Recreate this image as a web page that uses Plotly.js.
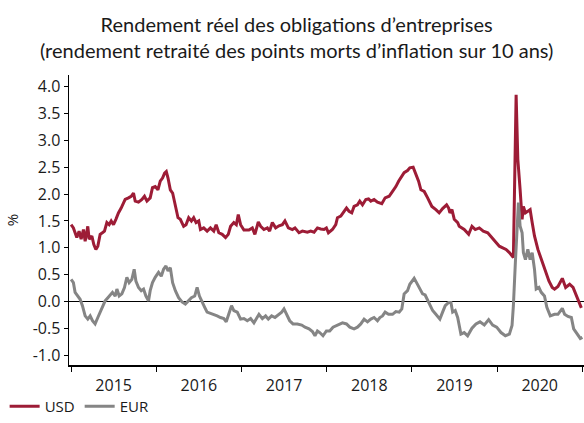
<!DOCTYPE html>
<html>
<head>
<meta charset="utf-8">
<script src="https://cdn.plot.ly/plotly-3.0.1.min.js"></script>
<style>html,body{margin:0;padding:0;background:#fff;}#chart{width:584px;height:423px;}</style>
</head>
<body>
<div id="chart"></div>
<script>
// Time given as decimal years, values in %
const usdT = [2015.000,2015.027,2015.067,2015.094,2015.118,2015.145,2015.165,2015.196,2015.212,2015.244,2015.267,2015.291,2015.314,2015.341,2015.368,2015.392,2015.420,2015.447,2015.471,2015.498,2015.526,2015.556,2015.588,2015.635,2015.674,2015.706,2015.733,2015.753,2015.792,2015.832,2015.862,2015.891,2015.929,2015.956,2015.988,2016.020,2016.047,2016.074,2016.098,2016.118,2016.138,2016.165,2016.192,2016.224,2016.255,2016.282,2016.321,2016.349,2016.380,2016.412,2016.439,2016.467,2016.498,2016.518,2016.556,2016.596,2016.635,2016.674,2016.702,2016.733,2016.773,2016.812,2016.844,2016.871,2016.909,2016.938,2016.961,2016.988,2017.027,2017.086,2017.126,2017.156,2017.196,2017.224,2017.262,2017.302,2017.329,2017.361,2017.400,2017.439,2017.479,2017.509,2017.549,2017.596,2017.627,2017.674,2017.714,2017.773,2017.812,2017.851,2017.891,2017.929,2017.968,2017.996,2018.020,2018.067,2018.106,2018.126,2018.165,2018.204,2018.232,2018.262,2018.294,2018.321,2018.361,2018.388,2018.420,2018.459,2018.491,2018.518,2018.556,2018.596,2018.647,2018.686,2018.733,2018.773,2018.812,2018.844,2018.871,2018.909,2018.949,2018.976,2019.015,2019.047,2019.079,2019.106,2019.145,2019.185,2019.235,2019.282,2019.321,2019.361,2019.408,2019.432,2019.447,2019.471,2019.498,2019.538,2019.556,2019.615,2019.667,2019.706,2019.745,2019.792,2019.839,2019.891,2019.941,2019.988,2020.027,2020.067,2020.106,2020.145,2020.192,2020.224,2020.244,2020.271,2020.294,2020.309,2020.333,2020.361,2020.388,2020.412,2020.439,2020.479,2020.506,2020.538,2020.568,2020.608,2020.647,2020.674,2020.714,2020.765,2020.804,2020.851,2020.891,2020.929,2020.961,2020.988];
const usdV = [1.43,1.37,1.19,1.31,1.16,1.34,1.12,1.40,1.16,1.22,1.06,0.97,1.03,1.25,1.28,1.31,1.47,1.43,1.50,1.43,1.53,1.65,1.74,1.90,1.93,1.96,2.02,1.87,1.85,1.90,1.96,1.87,1.93,2.12,2.14,2.08,2.24,2.30,2.39,2.42,2.30,2.08,2.02,1.77,1.56,1.53,1.40,1.43,1.56,1.50,1.56,1.47,1.50,1.34,1.37,1.31,1.37,1.31,1.43,1.28,1.25,1.19,1.25,1.40,1.47,1.43,1.62,1.43,1.33,1.33,1.37,1.25,1.48,1.40,1.34,1.37,1.31,1.47,1.37,1.41,1.43,1.50,1.37,1.34,1.37,1.28,1.31,1.29,1.31,1.29,1.37,1.35,1.34,1.37,1.28,1.34,1.43,1.56,1.59,1.68,1.74,1.68,1.65,1.77,1.80,1.87,1.80,1.90,1.91,1.87,1.90,1.85,1.82,1.93,1.96,2.05,2.14,2.24,2.30,2.40,2.44,2.49,2.50,2.36,2.24,2.08,2.05,1.93,1.77,1.71,1.65,1.73,1.80,1.74,1.65,1.71,1.53,1.47,1.40,1.34,1.25,1.40,1.34,1.37,1.31,1.28,1.19,1.09,1.03,1.00,0.97,0.91,0.82,3.85,2.65,2.08,1.53,1.77,1.65,1.68,1.71,1.47,1.22,0.97,0.85,0.69,0.57,0.38,0.26,0.23,0.28,0.43,0.26,0.32,0.26,0.10,-0.03,-0.12];

const eurT = [2015.000,2015.027,2015.047,2015.079,2015.106,2015.133,2015.165,2015.196,2015.224,2015.251,2015.282,2015.314,2015.341,2015.368,2015.400,2015.432,2015.459,2015.486,2015.518,2015.538,2015.565,2015.596,2015.627,2015.655,2015.682,2015.714,2015.741,2015.761,2015.792,2015.824,2015.851,2015.879,2015.909,2015.929,2015.956,2015.988,2016.027,2016.059,2016.086,2016.114,2016.138,2016.165,2016.192,2016.224,2016.262,2016.302,2016.341,2016.373,2016.412,2016.451,2016.479,2016.506,2016.538,2016.568,2016.596,2016.635,2016.674,2016.714,2016.753,2016.792,2016.820,2016.851,2016.882,2016.909,2016.949,2016.988,2017.027,2017.067,2017.106,2017.145,2017.173,2017.204,2017.244,2017.282,2017.314,2017.353,2017.392,2017.432,2017.471,2017.498,2017.526,2017.565,2017.604,2017.655,2017.706,2017.745,2017.792,2017.832,2017.862,2017.891,2017.918,2017.956,2017.996,2018.035,2018.074,2018.126,2018.185,2018.232,2018.271,2018.321,2018.361,2018.400,2018.439,2018.479,2018.518,2018.556,2018.596,2018.624,2018.655,2018.686,2018.726,2018.773,2018.812,2018.851,2018.882,2018.909,2018.949,2018.976,2019.008,2019.027,2019.055,2019.094,2019.126,2019.156,2019.185,2019.212,2019.244,2019.282,2019.329,2019.361,2019.392,2019.432,2019.459,2019.479,2019.509,2019.538,2019.576,2019.615,2019.655,2019.706,2019.753,2019.800,2019.851,2019.902,2019.949,2019.996,2020.047,2020.098,2020.145,2020.176,2020.192,2020.215,2020.235,2020.251,2020.271,2020.294,2020.309,2020.333,2020.361,2020.388,2020.412,2020.439,2020.459,2020.491,2020.518,2020.556,2020.584,2020.624,2020.674,2020.714,2020.765,2020.792,2020.831,2020.871,2020.898,2020.938,2020.976,2021.000];
const eurV = [0.41,0.35,0.17,0.09,0.04,-0.08,-0.27,-0.33,-0.27,-0.36,-0.42,-0.30,-0.20,-0.11,0.01,0.07,0.12,0.17,0.10,0.23,0.10,0.14,0.26,0.45,0.35,0.41,0.60,0.38,0.26,0.20,0.23,0.10,0.01,0.20,0.35,0.45,0.54,0.47,0.60,0.66,0.57,0.63,0.35,0.20,0.07,-0.01,-0.05,0.01,0.07,0.10,0.26,0.10,-0.02,-0.11,-0.20,-0.22,-0.24,-0.27,-0.30,-0.32,-0.38,-0.24,-0.08,-0.17,-0.20,-0.33,-0.32,-0.36,-0.32,-0.40,-0.33,-0.24,-0.32,-0.27,-0.33,-0.27,-0.30,-0.24,-0.20,-0.14,-0.24,-0.36,-0.42,-0.42,-0.44,-0.48,-0.51,-0.56,-0.64,-0.55,-0.58,-0.64,-0.55,-0.55,-0.48,-0.44,-0.40,-0.42,-0.48,-0.51,-0.48,-0.42,-0.33,-0.38,-0.33,-0.30,-0.36,-0.30,-0.27,-0.20,-0.24,-0.24,-0.19,-0.20,-0.14,0.14,0.20,0.32,0.40,0.43,0.35,0.23,0.14,0.12,0.03,-0.08,-0.17,-0.24,-0.33,-0.20,-0.08,-0.02,-0.02,-0.20,-0.17,-0.30,-0.61,-0.58,-0.64,-0.50,-0.42,-0.38,-0.44,-0.34,-0.44,-0.48,-0.58,-0.64,-0.61,-0.45,-0.08,0.72,1.53,1.84,1.40,1.28,0.91,0.78,0.97,0.78,0.91,0.60,0.23,0.26,0.17,0.10,-0.11,-0.27,-0.24,-0.24,-0.13,-0.24,-0.28,-0.30,-0.51,-0.61,-0.69,-0.67];

const seriesNames = ['USD', 'EUR'];
const yTickVals = [-1.0,-0.5,0.0,0.5,1.0,1.5,2.0,2.5,3.0,3.5,4.0];
const yTickText = ['-1.0','-0.5','0.0','0.5','1.0','1.5','2.0','2.5','3.0','3.5','4.0'];
const titleText = 'Rendement réel des obligations d’entreprises<br>(rendement retraité des points morts d’inflation sur 10 ans)';

function toDate(t) {
  const y = Math.floor(t);
  const a = Date.UTC(y, 0, 1), b = Date.UTC(y + 1, 0, 1);
  const d = new Date(a + (t - y) * (b - a));
  return d.toISOString().slice(0, 19).replace('T', ' ');
}

const traces = [
  {x: usdT.map(toDate), y: usdV, name: seriesNames[0], type: 'scatter', mode: 'lines',
   line: {color: '#9d1c36', width: 3}},
  {x: eurT.map(toDate), y: eurV, name: seriesNames[1], type: 'scatter', mode: 'lines',
   line: {color: '#858585', width: 3}}
];

const axisFont = {family: 'Open Sans, sans-serif', size: 16, color: '#1a1a1a'};
const layout = {
  width: 584, height: 423,
  margin: {l: 69, r: 0, t: 75, b: 57},
  paper_bgcolor: '#ffffff', plot_bgcolor: '#ffffff',
  title: {text: titleText, x: 0.508, xref: 'container', xanchor: 'center',
          y: 0.925, yref: 'container', yanchor: 'top',
          font: {family: 'Lato, sans-serif', size: 20, color: '#1a1a1a'}},
  xaxis: {type: 'date', range: ['2014-12-23', '2021-01-08'],
          showline: true, linecolor: '#000', linewidth: 1.5, mirror: false,
          ticks: 'outside', ticklen: 5, tickcolor: '#000', tickwidth: 1,
          dtick: 'M12', tick0: '2015-01-01', tickformat: '%Y', ticklabelmode: 'period',
          showgrid: false, zeroline: false, tickfont: axisFont},
  yaxis: {range: [-1.185, 4.22], tickvals: yTickVals, ticktext: yTickText,
          showline: true, linecolor: '#000', linewidth: 1.5,
          ticks: 'outside', ticklen: 4, tickcolor: '#000', tickwidth: 1,
          showgrid: false, zeroline: true, zerolinecolor: '#000', zerolinewidth: 1,
          tickfont: axisFont,
          title: {text: '%', font: {family: 'Open Sans, sans-serif', size: 15, color: '#1a1a1a'}, standoff: 10}},
  showlegend: true,
  legend: {orientation: 'h', x: -0.125, xanchor: 'left', y: -0.085, yanchor: 'top',
           font: {family: 'Open Sans, sans-serif', size: 15, color: '#1a1a1a'},
           bgcolor: 'rgba(0,0,0,0)', itemwidth: 30, tracegroupgap: 0}
};

Plotly.newPlot('chart', traces, layout, {displayModeBar: false, staticPlot: true});
</script>
</body>
</html>
